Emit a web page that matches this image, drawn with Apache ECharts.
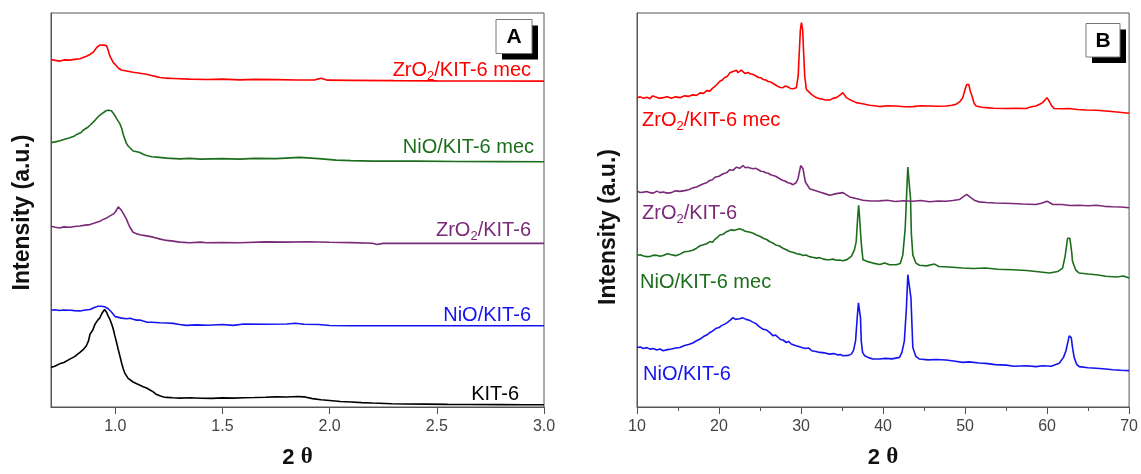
<!DOCTYPE html>
<html>
<head>
<meta charset="utf-8">
<script src="https://cdn.jsdelivr.net/npm/echarts@6/dist/echarts.min.js"></script>
<style>
html,body{margin:0;padding:0;background:#fff;}
#c{width:1141px;height:474px;}
</style>
</head>
<body>
<div id="c"></div>
<script>
// ---------- Panel A (small angle), x = 2θ, y = intensity (a.u., stacked) ----------
const ticksA = [1.0, 1.5, 2.0, 2.5, 3.0];
const kit6A = [[0.70,40],[0.72,41.5],[0.74,43.7],[0.76,45],[0.79,48.7],[0.81,51],[0.835,55.3],[0.85,58],[0.865,62],[0.875,67],[0.882,73.7],[0.895,78],[0.905,83.7],[0.918,88],[0.928,90.3],[0.938,95],[0.944,97],[0.950,98.7],[0.959,96],[0.967,92],[0.975,88.7],[0.983,84],[0.990,79.3],[0.998,72],[1.006,65.3],[1.014,58],[1.021,52],[1.030,44],[1.037,38.7],[1.045,34],[1.052,32],[1.06,29],[1.068,27],[1.083,25.3],[1.10,23.5],[1.115,22],[1.13,20.5],[1.146,19.3],[1.16,17.5],[1.177,15.3],[1.19,13],[1.208,11.3],[1.225,10.2],[1.239,9.7],[1.27,9.3],[1.30,9.0],[1.35,9.4],[1.40,8.9],[1.45,8.7],[1.50,9.2],[1.55,9.0],[1.60,9.4],[1.65,9.6],[1.70,9.9],[1.75,10.3],[1.80,10.2],[1.85,10.7],[1.88,10.3],[1.92,8.5],[1.96,7.3],[2.00,6.6],[2.05,5.6],[2.10,5.0],[2.15,4.4],[2.20,4.0],[2.29,3.3],[2.35,3.1],[2.45,2.9],[2.55,2.7],[2.65,2.6],[2.80,2.4],[2.90,2.3],[3.00,2.3]];
const nioA = [[0.70,98],[0.72,98.5],[0.74,97.8],[0.76,98.3],[0.79,98],[0.81,97.6],[0.835,97.3],[0.86,98.2],[0.882,98.7],[0.895,100],[0.905,101],[0.92,102],[0.935,102],[0.95,101.5],[0.959,101.3],[0.967,99.5],[0.975,98],[0.983,96],[0.99,94],[1.0,91.5],[1.006,90.3],[1.03,90],[1.052,89.3],[1.07,89.8],[1.083,88.8],[1.10,88],[1.115,88],[1.13,87],[1.146,86],[1.17,85.8],[1.208,85.3],[1.239,85],[1.27,84.7],[1.30,83.5],[1.33,82.7],[1.38,83.2],[1.43,82.8],[1.50,83.5],[1.55,82.7],[1.60,84],[1.70,83.8],[1.80,84],[1.84,84.8],[1.88,83.8],[1.95,83.6],[2.00,82.5],[2.10,82.3],[2.30,82.3],[2.60,82.3],[3.00,82.3]];
const zrA = [[0.70,183],[0.72,182],[0.74,181.3],[0.76,182.4],[0.79,182],[0.81,182.8],[0.835,183.3],[0.86,184.2],[0.882,184.7],[0.90,186],[0.928,188],[0.944,190],[0.959,191.3],[0.975,193.5],[0.99,195.3],[1.0,197.5],[1.014,202.7],[1.021,201],[1.030,198.7],[1.037,196],[1.052,190.3],[1.06,186],[1.068,182],[1.075,180.3],[1.083,177],[1.10,175.3],[1.115,174.5],[1.146,173.3],[1.177,172],[1.21,170],[1.239,168.7],[1.27,168],[1.30,167],[1.347,166.3],[1.40,167],[1.425,166.3],[1.50,166.5],[1.58,166.3],[1.70,167.2],[1.80,167],[1.90,167.3],[2.00,166.8],[2.10,166.5],[2.20,165.8],[2.22,164.5],[2.25,165.7],[2.30,165.7],[2.50,165.7],[2.70,165.7],[3.00,165.7]];
const nioMecA = [[0.70,267.7],[0.72,268.5],[0.742,269.7],[0.76,271],[0.788,272.7],[0.81,274.5],[0.82,276],[0.84,278],[0.85,280.3],[0.87,283],[0.882,285.3],[0.895,288],[0.905,290.3],[0.92,294],[0.928,296],[0.944,298],[0.959,300.3],[0.97,300.5],[0.982,300],[0.990,298],[0.998,295.3],[1.006,292],[1.021,287],[1.030,282],[1.037,276],[1.045,271],[1.052,267],[1.060,264.3],[1.083,259.3],[1.10,258.5],[1.115,257.7],[1.13,256],[1.146,254.7],[1.17,253.5],[1.193,253],[1.239,252],[1.30,251.3],[1.347,251.8],[1.40,251],[1.50,251.5],[1.58,251],[1.65,251.8],[1.75,251.5],[1.86,252.8],[1.95,251.5],[2.03,250],[2.10,249.5],[2.20,249],[2.40,249],[2.60,248.6],[2.80,248.5],[3.00,248.3]];
const zrMecA = [[0.70,352],[0.72,351],[0.742,350.3],[0.76,351.5],[0.788,351.3],[0.81,352],[0.835,352.7],[0.85,354],[0.865,355.3],[0.882,357],[0.897,359.3],[0.905,361],[0.912,363.7],[0.925,366.3],[0.944,366.5],[0.959,366],[0.967,361],[0.975,355.3],[0.99,349],[1.006,345.3],[1.015,343],[1.028,341.3],[1.052,340.3],[1.083,339],[1.115,338],[1.146,337],[1.177,335.3],[1.208,333.7],[1.239,333],[1.27,332.7],[1.347,332],[1.425,331.7],[1.50,332],[1.58,331.3],[1.65,331.8],[1.75,331.5],[1.85,331.2],[1.93,331.3],[1.96,333],[1.99,331],[2.10,330.8],[2.30,330.5],[2.50,330.3],[2.70,330.2],[3.00,330]];

// ---------- Panel B (wide angle) ----------
const zrMecB = [[10,311.7],[10.4,312.5],[10.8,311],[11.2,312],[11.58,310.7],[11.9,313.5],[12.2,312.5],[12.7,311],[13.2,311.7],[13.7,312.6],[14.2,311],[14.7,312.5],[15.23,311.7],[15.8,313.5],[16.3,313],[16.8,314.5],[17.26,314],[17.7,316.5],[18.1,316],[18.5,318.8],[18.88,318.3],[19.2,321],[19.5,323],[19.8,325.5],[20.1,328.3],[20.4,329.5],[20.7,332],[21.0,333],[21.32,336.7],[21.5,335.5],[21.7,338],[21.9,337],[22.13,339.3],[22.3,337],[22.5,337.5],[22.7,339.5],[22.94,338.3],[23.2,336],[23.5,337],[23.8,335.8],[24.16,335],[24.5,333.5],[24.8,332],[25.1,331.8],[25.38,330],[25.7,329.5],[26,328],[26.3,327.5],[26.59,326],[26.9,324.5],[27.2,323],[27.5,322],[27.81,321.7],[28.1,323.5],[28.4,322.5],[28.7,321],[29.03,320.7],[29.43,321.7],[29.65,333.3],[29.8,360],[29.92,380],[30.05,387.3],[30.2,380],[30.3,360],[30.45,333.3],[30.65,320],[31.26,315],[31.8,312],[32.27,310.7],[32.9,309.5],[33.49,309.3],[33.9,311],[34.3,311.7],[34.7,314],[35.11,316.7],[35.52,311.7],[36.1,309],[36.73,306.7],[37.5,305.5],[38.36,304],[39.2,303.3],[39.57,302.7],[40.5,303.5],[41.6,303.3],[42.6,302.5],[43.63,302.7],[44.6,303.6],[45.66,303.3],[46.7,303],[47.69,303.3],[48.4,304],[48.9,305],[49.4,308],[49.72,311.7],[50.0,320],[50.2,325],[50.45,325],[50.65,318],[50.85,313.3],[51.1,306],[51.34,303.3],[52.0,302],[52.56,301.7],[53.5,301],[55,300.7],[56.2,301],[57.43,300.7],[58.1,302.5],[58.65,303.3],[59.1,305],[59.46,306.7],[59.98,311.7],[60.2,309],[60.35,306.7],[60.6,303],[60.88,300.7],[61.8,300.5],[62.7,300.7],[63.7,299.8],[64.73,299.3],[66,299],[67.16,298.3],[68.5,297.3],[70,296]];
const zrB = [[10,217.3],[10.4,216.2],[10.8,216.5],[11.2,217.2],[11.58,216],[12.0,215.5],[12.4,217.5],[12.8,216],[13.2,216.7],[13.7,215.5],[14.2,216],[14.7,217.8],[15.23,217.3],[15.8,218],[16.3,219],[16.8,220.8],[17.26,221.7],[17.7,223.5],[18.1,225],[18.5,226],[18.88,228.3],[19.2,229],[19.5,231.5],[20.0,232.5],[20.5,235],[20.9,236],[21.3,239],[21.7,238.5],[22.13,241.7],[22.5,240.5],[22.94,243.3],[23.2,241],[23.5,241.5],[23.8,240.8],[24.16,240],[24.5,240.5],[24.8,239],[25.1,237.5],[25.38,237.3],[25.7,236],[26,235.5],[26.3,234],[26.59,233.3],[26.9,232.5],[27.2,231],[27.5,229.5],[27.81,228.3],[28.1,227.5],[28.4,226],[28.7,225.5],[29.03,224],[29.4,226],[29.63,230],[29.96,243.3],[30.24,240],[30.53,226.7],[31.05,220],[31.8,218],[32.27,216.7],[32.9,215],[33.49,213.3],[34.3,215],[35.11,216],[35.92,211.7],[36.7,210],[37.55,208.3],[38.5,207.5],[39.57,207.7],[40.5,208.3],[41.5,207],[42.5,207.8],[43.63,207.3],[44.6,208],[45.66,206.8],[46.7,207.5],[47.69,207.3],[48.5,208],[49.3,209],[49.8,212],[50.2,214.3],[50.7,211],[51.2,208],[51.7,206.7],[52.6,206],[53.7,205.5],[55.8,205],[57,204.5],[58.65,204],[59.4,205.5],[59.98,207.3],[60.4,205.5],[60.7,204],[61.8,204],[62.8,203],[63.9,203.3],[65,202.8],[66,203.3],[67,202.2],[68,201.7],[69,201.5],[70,200.7]];
const nioMecB = [[10,152.7],[10.4,153.5],[10.8,152.2],[11.2,151.5],[11.58,151.7],[12.0,153],[12.4,152.8],[12.8,151.8],[13.2,152.7],[13.7,154.5],[14.2,153.5],[14.7,152.5],[15.23,154],[15.8,156.5],[16.3,157],[16.8,158],[17.26,160],[17.7,162.5],[18.1,163.5],[18.5,164.5],[18.88,166.7],[19.2,166],[19.5,169],[19.8,171],[20.1,173.3],[20.5,174],[20.8,176],[21.2,177.5],[21.5,178.5],[21.72,180],[21.9,178],[22.13,179],[22.5,179.5],[22.94,178.3],[23.2,177],[23.5,176.5],[23.8,176],[24.16,175],[24.5,173.5],[24.8,172.5],[25.1,171.5],[25.38,170],[25.8,168.8],[26.2,166.5],[26.5,165.5],[26.9,163.3],[27.3,162.5],[27.8,160],[28.2,158.5],[28.6,156.7],[29.0,156],[29.5,154.5],[29.9,153.8],[30.24,152.7],[30.6,153.2],[31.0,151.5],[31.4,150.8],[31.86,150],[32.3,150.5],[32.7,149],[33.1,148.5],[33.49,148.3],[33.9,149],[34.3,147.8],[34.7,148.2],[35.11,147.3],[35.6,148.5],[36.13,151.7],[36.5,158],[36.73,166.7],[36.9,190],[37.02,203.3],[37.1,196],[37.26,175],[37.4,160],[37.55,148.3],[38.1,146.5],[38.76,145],[39.6,143.5],[40.2,145],[40.79,143.3],[41.6,143.3],[42.1,144.5],[42.41,153.3],[42.7,180],[42.88,215],[43.02,241.7],[43.23,240],[43.35,210],[43.45,175],[43.63,153.3],[44.0,145],[44.44,142.8],[45.3,142.2],[46.27,144],[46.8,141.5],[48,141],[49.72,140],[51,139.5],[52.5,140],[54,138.8],[55.8,138.3],[57.5,137.5],[59.2,136],[60.3,135],[61.3,136.5],[61.89,140],[62.2,152],[62.5,170],[62.78,170],[63.0,156],[63.1,146.7],[63.5,138],[63.92,135],[65.0,134],[66,133.3],[67.16,131.7],[68.5,131],[69.3,132],[70,130]];
const nioB = [[10,60],[10.4,60.5],[10.8,59],[11.2,59.8],[11.58,58.3],[12.0,59],[12.4,57.5],[12.8,58.5],[13.2,56.7],[13.7,57.8],[14.2,58.5],[14.7,59.5],[15.23,60],[15.8,62],[16.3,63],[16.8,64.5],[17.26,66.7],[17.7,68.5],[18.1,71],[18.5,72.5],[18.88,75],[19.2,76.5],[19.6,79],[20.0,80],[20.3,82],[20.7,83.5],[21.0,85],[21.3,87],[21.72,90],[22.0,88.3],[22.2,89.5],[22.5,89],[22.9,89.8],[23.3,88.3],[23.7,87.5],[24.0,86],[24.2,86.5],[24.5,84],[24.9,81],[25.38,78.3],[25.8,77.5],[26.2,75],[26.59,71.7],[26.9,72.5],[27.5,68],[27.8,67.5],[28.2,65],[28.5,66],[28.8,63.5],[29.3,62],[29.9,60.5],[30.5,59],[30.9,59.5],[31.3,56.7],[31.8,56],[32.3,55],[32.9,54.5],[33.49,53.3],[34.0,53.8],[34.5,52.5],[34.8,52.8],[35.11,51.7],[35.8,52],[36.13,53.3],[36.4,57],[36.65,66.7],[36.85,90],[37.0,105],[37.14,103.3],[37.25,90],[37.34,66.7],[37.5,55],[37.75,51.7],[38.3,49.5],[38.76,48.3],[39.57,48.3],[40.3,49],[41.1,48.5],[42.0,50],[42.3,55],[42.6,66.7],[42.85,100],[43.02,133.3],[43.23,133.3],[43.4,110],[43.63,60],[44.0,51],[44.44,48.3],[45.5,47.5],[46.5,47.8],[47.69,47.3],[48.6,46.3],[49.72,45],[50.5,45.5],[51.7,44.3],[52.5,44],[53.7,42.7],[55,42.2],[56,41],[57.5,41.5],[58.65,40.7],[59.5,41.5],[60.5,41],[61.48,44],[62.0,50],[62.3,56.7],[62.7,71.7],[62.95,70],[63.1,60],[63.3,50],[63.6,43],[63.92,40.7],[65,39.5],[66,39],[67.16,38.3],[68,37.5],[69,37],[70,36.7]];

const RED = '#ff0000', GREEN = '#1c6e1c', PURPLE = '#7a2a78', BLUE = '#1414f0', BLACK = '#000000';
const FONT = 'Arial, "Liberation Sans", sans-serif';
const AX = '#555555';

const chart = echarts.init(document.getElementById('c'), null, {renderer: 'canvas'});

function xName() {
  return {
    name: '{a|2 }{b|θ}',
    nameLocation: 'middle',
    nameGap: 39,
    nameTextStyle: {
      rich: {
        a: {fontFamily: FONT, fontWeight: 'bold', fontSize: 22, color: '#111'},
        b: {fontFamily: '"Liberation Serif", "Times New Roman", serif', fontWeight: 'bold', fontSize: 23, color: '#111'}
      }
    }
  };
}

function line(data, color, xi) {
  return {
    type: 'line', data: data, xAxisIndex: xi, yAxisIndex: xi,
    showSymbol: false, symbol: 'none', smooth: false,
    lineStyle: {color: color, width: 1.6}, silent: true
  };
}

function label(x, y, parts, color, align) {
  let text = parts.map(p => p[1] ? '{s|' + p[0] + '}' : '{n|' + p[0] + '}').join('');
  return {
    type: 'text', x: x, y: y, silent: true,
    style: {
      text: text, align: align, verticalAlign: 'middle',
      rich: {
        n: {fontFamily: FONT, fontSize: 20, fill: color, color: color},
        s: {fontFamily: FONT, fontSize: 13, fill: color, color: color, padding: [12, 0, 0, 0]}
      }
    }
  };
}

function panelBox(x, y, w, h, letter) {
  return [
    {type: 'rect', shape: {x: x + 6, y: y + 6, width: w, height: h}, style: {fill: '#000'}, silent: true},
    {type: 'rect', shape: {x: x, y: y, width: w, height: h}, style: {fill: '#fff', stroke: '#777', lineWidth: 1}, silent: true},
    {type: 'text', x: x + w / 2, y: y + h / 2 + 1, silent: true,
     style: {text: letter, align: 'center', verticalAlign: 'middle', fontFamily: FONT, fontWeight: 'bold', fontSize: 21, fill: '#000'}}
  ];
}

function yName(x, y) {
  return {type: 'text', x: x, y: y, rotation: Math.PI / 2, silent: true,
    style: {text: 'Intensity (a.u.)', align: 'center', verticalAlign: 'middle',
            fontFamily: FONT, fontWeight: 'bold', fontSize: 23, fill: '#111'}};
}

const option = {
  animation: false,
  backgroundColor: '#fff',
  grid: [
    {left: 51, top: 13, width: 493, height: 399, show: true, borderColor: AX, borderWidth: 1, backgroundColor: 'transparent'},
    {left: 637, top: 13, width: 493, height: 397, show: true, borderColor: AX, borderWidth: 1, backgroundColor: 'transparent'}
  ],
  xAxis: [
    Object.assign({
      type: 'value', gridIndex: 0, min: 0.7, max: 3.0,
      axisLine: {show: true, lineStyle: {color: AX, width: 1}},
      axisTick: {show: true, customValues: ticksA, length: 7, lineStyle: {color: AX}},
      axisLabel: {customValues: ticksA, formatter: v => v.toFixed(1), color: '#444', fontFamily: FONT, fontSize: 16, margin: 12},
      splitLine: {show: false}
    }, xName()),
    Object.assign({
      type: 'value', gridIndex: 1, min: 10, max: 70, interval: 10,
      axisLine: {show: true, lineStyle: {color: AX, width: 1}},
      axisTick: {show: true, length: 7, lineStyle: {color: AX}},
      minorTick: {show: true, splitNumber: 2, length: 4, lineStyle: {color: AX}},
      axisLabel: {color: '#444', fontFamily: FONT, fontSize: 16, margin: 12},
      splitLine: {show: false}, minorSplitLine: {show: false}
    }, xName())
  ],
  yAxis: [
    {type: 'value', gridIndex: 0, min: 0, max: 399,
     axisLine: {show: true, lineStyle: {color: AX}}, axisTick: {show: false}, axisLabel: {show: false}, splitLine: {show: false}},
    {type: 'value', gridIndex: 1, min: 0, max: 397,
     axisLine: {show: true, lineStyle: {color: AX}}, axisTick: {show: false}, axisLabel: {show: false}, splitLine: {show: false}}
  ],
  series: [
    line(kit6A, BLACK, 0),
    line(nioA, BLUE, 0),
    line(zrA, PURPLE, 0),
    line(nioMecA, GREEN, 0),
    line(zrMecA, RED, 0),
    line(nioB, BLUE, 1),
    line(nioMecB, GREEN, 1),
    line(zrB, PURPLE, 1),
    line(zrMecB, RED, 1)
  ],
  graphic: [
    yName(23, 212.5),
    yName(609, 227),
    label(531, 70, [['ZrO'], ['2', true], ['/KIT-6 mec']], RED, 'right'),
    label(534, 147, [['NiO/KIT-6 mec']], GREEN, 'right'),
    label(531, 230, [['ZrO'], ['2', true], ['/KIT-6']], PURPLE, 'right'),
    label(531, 315, [['NiO/KIT-6']], BLUE, 'right'),
    label(519, 394, [['KIT-6']], BLACK, 'right'),
    label(642, 120, [['ZrO'], ['2', true], ['/KIT-6 mec']], RED, 'left'),
    label(642, 213, [['ZrO'], ['2', true], ['/KIT-6']], PURPLE, 'left'),
    label(640, 282, [['NiO/KIT-6 mec']], GREEN, 'left'),
    label(643, 374, [['NiO/KIT-6']], BLUE, 'left')
  ].concat(panelBox(496, 19.5, 36, 34, 'A'), panelBox(1086, 23.5, 34, 33.5, 'B'))
};

chart.setOption(option);
</script>
</body>
</html>
